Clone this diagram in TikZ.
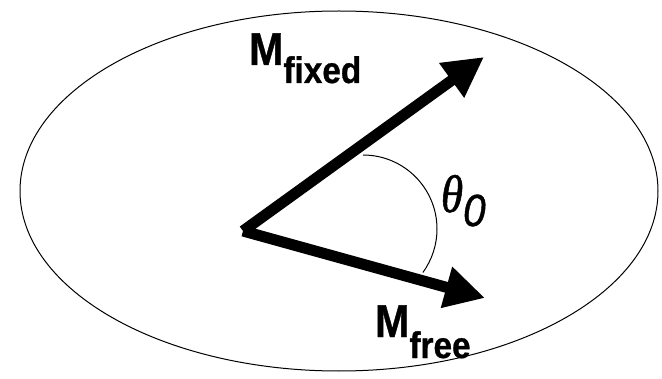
\documentclass[tikz,border=0pt]{standalone}
\usepackage{fontspec}
\usetikzlibrary{arrows.meta,shapes.geometric}
\newfontfamily\labsans[FakeStretch=0.9,BoldFeatures={FakeBold=0.8},ItalicFeatures={FakeBold=1}]{Liberation Sans}
\newfontfamily\labserif[FakeStretch=0.85,ItalicFeatures={FakeBold=1}]{Liberation Serif}
\tikzset{
  vec/.style={line width=11pt, line cap=butt, -{Triangle[length=40pt,width=40pt]}},
  lab/.style={inner sep=0pt, outer sep=0pt, anchor=base west},
}
\begin{document}
\begin{tikzpicture}[x=1pt,y=1pt]
\useasboundingbox (0,0) rectangle (662,378);
\node[draw, ellipse, line width=1pt, minimum width=638pt, minimum height=360pt, inner sep=0pt] (disc) at (339,187) {};
\coordinate (O) at (243,147);
\coordinate (fixedtip) at (484,321);
\coordinate (freetip) at (485,80);
\draw[vec] (O) -- (fixedtip);
\draw[vec] (O) -- (freetip);
\draw[line width=1pt] (363,223) arc[start angle=90, end angle=-36, radius=74];
\node[lab] (mfixed) at (249,313) {\labsans\bfseries\fontsize{46}{46}\selectfont M\raisebox{-18pt}{\fontsize{37}{37}\selectfont fixed}};
\node[lab] (mfree) at (375,41) {\labsans\bfseries\fontsize{46}{46}\selectfont M\raisebox{-21pt}{\fontsize{37}{37}\selectfont free}};
\node[lab] (theta) at (441,166) {\labserif\itshape\fontsize{53}{53}\selectfont θ\raisebox{-14pt}{\labsans\itshape\fontsize{45}{45}\selectfont 0}};
\end{tikzpicture}
\end{document}
